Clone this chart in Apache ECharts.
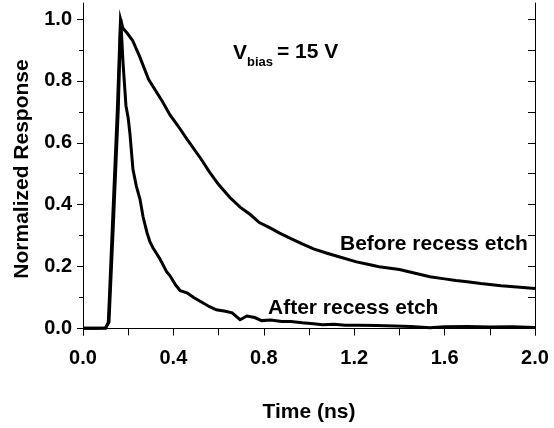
<!DOCTYPE html>
<html>
<head>
<meta charset="utf-8">
<script src="https://cdn.jsdelivr.net/npm/echarts@6/dist/echarts.min.js"></script>
<style>html,body{margin:0;padding:0;background:#fff}#c{width:554px;height:428px}</style>
</head>
<body>
<div id="c"></div>
<script>
// Time (ns) and normalized response
var beforeTime = [0,0.05,0.10,0.105,0.112,0.118,0.13,0.152,0.166,0.177,0.195,0.22,0.25,0.29,0.35,0.385,0.42,0.46,0.52,0.56,0.60,0.65,0.695,0.74,0.78,0.83,0.87,0.92,0.97,1.02,1.08,1.14,1.21,1.26,1.31,1.40,1.47,1.535,1.60,1.65,1.70,1.76,1.85,1.92,2.0];
var beforeVal  = [0,0,0.001,0.003,0.02,0.12,0.33,0.707,1.0,0.97,0.955,0.93,0.88,0.805,0.735,0.69,0.655,0.612,0.55,0.505,0.465,0.423,0.392,0.368,0.342,0.324,0.308,0.29,0.273,0.257,0.243,0.23,0.215,0.207,0.199,0.19,0.178,0.167,0.16,0.155,0.151,0.145,0.138,0.134,0.129];
var afterTime = [0,0.05,0.10,0.108,0.115,0.121,0.134,0.156,0.167,0.177,0.19,0.2,0.208,0.221,0.236,0.252,0.266,0.283,0.296,0.31,0.34,0.37,0.385,0.41,0.43,0.46,0.49,0.52,0.56,0.59,0.63,0.66,0.695,0.725,0.76,0.79,0.83,0.88,0.92,0.97,1.02,1.06,1.11,1.16,1.22,1.30,1.38,1.45,1.535,1.60,1.70,1.80,1.90,2.0];
var afterVal  = [0,0,0.001,0.003,0.02,0.12,0.33,0.707,1.0,0.86,0.72,0.68,0.627,0.514,0.46,0.418,0.36,0.31,0.28,0.26,0.225,0.183,0.17,0.14,0.122,0.115,0.10,0.087,0.07,0.06,0.055,0.05,0.028,0.04,0.035,0.025,0.027,0.022,0.022,0.018,0.015,0.012,0.013,0.01,0.01,0.009,0.008,0.006,0.002,0.005,0.006,0.004,0.005,0.003];
var xTickLabels = [0,0.4,0.8,1.2,1.6,2.0];
var yTickLabels = [0,0.2,0.4,0.6,0.8,1.0];
var yMinorTicks = [0.1,0.3,0.5,0.7,0.9];
var yRightTicks = [0,0.1,0.2,0.3,0.4,0.5,0.6,0.7,0.8,0.9,1.0];

function pairs(t, v){ return t.map(function(x,i){ return [x, v[i]]; }); }

var FONT = '"Liberation Sans", Arial, sans-serif';
var YMIN = -0.0215, YMAX = 1.052;
var chart = echarts.init(document.getElementById('c'), null, {renderer:'canvas'});
chart.setOption({
  animation: false,
  backgroundColor: '#fff',
  grid: {left: 83, right: 19, top: 3, bottom: 91},
  xAxis: [{
    type: 'value', position: 'bottom', min: 0, max: 2, interval: 0.4,
    axisLine: {lineStyle: {color: '#000', width: 1}},
    axisTick: {inside: false, length: 7, lineStyle: {color: '#000'}},
    minorTick: {show: true, splitNumber: 2, length: 4, lineStyle: {color: '#000'}},
    splitLine: {show: false},
    axisLabel: {margin: 13, color: '#000', fontFamily: FONT, fontWeight: 'bold', fontSize: 20,
      formatter: function(v){ return v.toFixed(1); }},
    name: 'Time (ns)', nameLocation: 'middle', nameGap: 67,
    nameTextStyle: {color: '#000', fontFamily: FONT, fontWeight: 'bold', fontSize: 21}
  }, {
    type: 'value', position: 'top', min: 0, max: 2, interval: 0.2,
    axisLine: {lineStyle: {color: '#000', width: 1}},
    axisTick: {inside: true, length: 7, lineStyle: {color: '#000'}},
    axisLabel: {show: false}, splitLine: {show: false}
  }],
  yAxis: [{
    type: 'value', position: 'left', min: YMIN, max: YMAX,
    axisLine: {show: true, lineStyle: {color: '#000', width: 1}},
    axisTick: {show: true, inside: false, length: 6, customValues: yTickLabels, lineStyle: {color: '#000'}},
    axisLabel: {margin: 11, color: '#000', fontFamily: FONT, fontWeight: 'bold', fontSize: 20,
      customValues: yTickLabels, formatter: function(v){ return v.toFixed(1); }},
    splitLine: {show: false},
    name: 'Normalized Response', nameLocation: 'middle', nameGap: 50, nameRotate: 90,
    nameTextStyle: {color: '#000', fontFamily: FONT, fontWeight: 'bold', fontSize: 21}
  }, {
    type: 'value', position: 'left', offset: 0, min: YMIN, max: YMAX,
    axisLine: {show: false},
    axisTick: {show: true, inside: false, length: 4, customValues: yMinorTicks, lineStyle: {color: '#000'}},
    axisLabel: {show: false}, splitLine: {show: false}
  }, {
    type: 'value', position: 'right', offset: 0, min: YMIN, max: YMAX,
    axisLine: {show: true, lineStyle: {color: '#000', width: 1}},
    axisTick: {show: true, inside: true, length: 7, customValues: yRightTicks, lineStyle: {color: '#000'}},
    axisLabel: {show: false}, splitLine: {show: false}
  }],
  series: [{
    name: 'Before recess etch', type: 'line', xAxisIndex: 0, yAxisIndex: 0,
    data: pairs(beforeTime, beforeVal), showSymbol: false, symbol: 'none',
    lineStyle: {color: '#000', width: 3, join: 'miter'}, z: 3
  }, {
    name: 'After recess etch', type: 'line', xAxisIndex: 0, yAxisIndex: 0,
    data: pairs(afterTime, afterVal), showSymbol: false, symbol: 'none',
    lineStyle: {color: '#000', width: 3, join: 'miter'}, z: 3
  }],
  graphic: [
    {type: 'text', style: {text: 'V', x: 233, y: 53, font: 'bold 21px ' + FONT, fill: '#000', verticalAlign: 'middle'}},
    {type: 'text', style: {text: 'bias', x: 247, y: 62, font: 'bold 13px ' + FONT, fill: '#000', verticalAlign: 'middle'}},
    {type: 'text', style: {text: '= 15 V', x: 277, y: 52, font: 'bold 21px ' + FONT, fill: '#000', verticalAlign: 'middle'}},
    {type: 'text', style: {text: 'Before recess etch', x: 340, y: 244, font: 'bold 21px ' + FONT, fill: '#000', verticalAlign: 'middle'}},
    {type: 'text', style: {text: 'After recess etch', x: 268, y: 308, font: 'bold 21px ' + FONT, fill: '#000', verticalAlign: 'middle'}}
  ]
});
</script>
</body>
</html>
